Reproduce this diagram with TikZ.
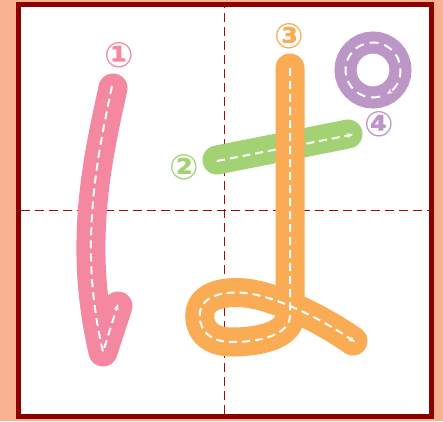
\documentclass[tikz,border=0pt]{standalone}
\usepackage{fontspec}
\newfontfamily\sofont{DejaVu Sans}
\usetikzlibrary{arrows.meta}

\definecolor{nen}{RGB}{248,178,146}
\definecolor{khung}{RGB}{140,0,0}
\definecolor{luoi}{RGB}{160,10,10}
\definecolor{hong}{RGB}{244,136,160}
\definecolor{xanh}{RGB}{163,210,117}
\definecolor{cam}{RGB}{249,172,84}
\definecolor{tim}{RGB}{188,150,198}

\tikzset{
  net/.style={line width=29pt, line cap=round, line join=round},
  huongdan/.style={white, line width=2pt, dash pattern=on 8pt off 5pt, ->},
  duongluoi/.style={luoi, line width=1.3pt, dash pattern=on 9pt off 5pt},
  so/.style={font=\sofont\bfseries\fontsize{35}{35}\selectfont, inner sep=0pt}
}

\begin{document}
\begin{tikzpicture}[>={Stealth[length=6pt, width=5pt]}, x=1pt, y=1pt]
    % 1. Vẽ nền và khung ô vuông
    \useasboundingbox (0,0) rectangle (443,421);
    \fill[nen] (0,0) rectangle (443,421);
    \fill[white] (18,4.5) rectangle (431,416.5);
    \draw[khung, line width=5pt] (18,4.5) rectangle (431,416.5);

    % 2. Vẽ đường lưới chia ô
    \draw[duongluoi] (224.3,7) -- (224.3,414);
    \draw[duongluoi] (20.5,210.3) -- (428.5,210.3);

    % 3. Nét thứ nhất (màu hồng)
    \draw[net, hong] (113,333) .. controls (104,291) and (92,241) .. (91,181)
        .. controls (90,131) and (98,91) .. (103,69) -- (118,115);
    \draw[huongdan] (112,335) .. controls (103,291) and (92,241) .. (91,181)
        .. controls (90,131) and (98,91) .. (103,69) -- (118,117);
    \node[so, hong] (so1) at (119,366) {①};

    % 4. Nét thứ hai (màu xanh)
    \draw[net, xanh] (217,261) -- (348,287);
    \draw[huongdan] (217,260) -- (353,286.5);
    \node[so, xanh] (so2) at (184,254) {②};

    % 5. Nét thứ ba (màu cam)
    \draw[net, cam] (290,353) -- (290,106)
        .. controls (290,86) and (260,79) .. (232,79)
        .. controls (205,79) and (198,96) .. (200,109)
        .. controls (203,126) and (225,130) .. (245,128)
        .. controls (275,125) and (320,103) .. (353,80);
    \draw[huongdan] (290,353) -- (290,106)
        .. controls (290,86) and (260,79) .. (232,79)
        .. controls (205,79) and (198,96) .. (200,109)
        .. controls (203,126) and (225,130) .. (245,128)
        .. controls (275,125) and (320,103) .. (355,79);
    \node[so, cam] (so3) at (289,385) {③};

    % 6. Nét thứ tư (vòng tròn màu tím)
    \draw[tim, line width=22pt] (373,351) circle (27.5);
    \draw[huongdan, dash pattern=on 9pt off 6pt] ([shift={(-75:27.5)}]373,351)
        arc[start angle=-75, end angle=-420, radius=27.5];
    \node[so, tim] (so4) at (379,297) {④};

\end{tikzpicture}
\end{document}
